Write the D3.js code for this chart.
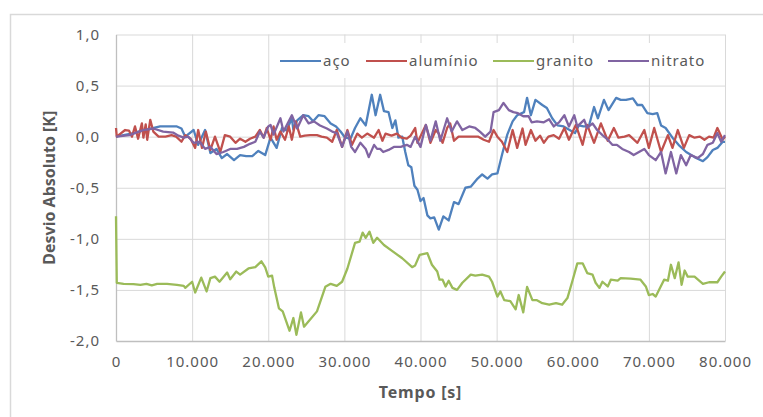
<!DOCTYPE html>
<html>
<head>
<meta charset="utf-8">
<script src="https://cdn.jsdelivr.net/npm/d3@7"></script>
<style>
  body { margin: 0; background: #fff; }
  text { font-family: "Noto Sans", "Open Sans", sans-serif; }
</style>
</head>
<body>
<svg></svg>
<script>
var svgWidth = 763;
var svgHeight = 417;

/* data: [tempo (mil s), desvio (K)] */
var acoData = [[0,0],[2,0.03],[4,0.07],[5.8,0.1],[7,0.1],[8,0.1],[8.6,0.08],[9.1,0],[10.2,0.065],[10.8,-0.08],[11.7,0.065],[12.4,-0.16],[13.2,-0.12],[13.9,-0.21],[14.6,-0.17],[15.5,-0.23],[16.3,-0.18],[17.1,-0.19],[17.9,-0.19],[18.7,-0.14],[19.6,-0.18],[20.3,-0.01],[21.1,-0.11],[21.8,0.085],[22.4,0.06],[23.1,0.18],[23.3,0.07],[23.8,0.16],[24.6,0.21],[25.3,0.2],[25.9,0.15],[26.6,0.21],[27.4,0.2],[28.2,0.13],[28.9,0.1],[29.5,0.05],[30.1,-0.01],[30.8,-0.02],[31.4,0.085],[32.1,0.18],[32.8,0.11],[33.6,0.41],[34.1,0.21],[34.7,0.41],[35.2,0.25],[35.8,0.24],[36.3,0.085],[36.7,0.16],[37.1,-0.01],[37.6,0],[38,-0.15],[38.4,-0.28],[38.8,-0.3],[39.2,-0.48],[39.6,-0.52],[40,-0.63],[40.4,-0.6],[40.9,-0.77],[41.3,-0.8],[41.8,-0.79],[42.4,-0.91],[43,-0.78],[43.7,-0.82],[44.4,-0.64],[45,-0.66],[45.9,-0.5],[46.6,-0.49],[47.5,-0.41],[48.1,-0.37],[48.8,-0.41],[49.4,-0.37],[50.1,-0.36],[50.7,-0.18],[51.4,0.02],[52.1,0.15],[52.7,0.21],[53.6,0.24],[54,0.38],[54.5,0.21],[55.1,0.36],[56,0.31],[56.6,0.28],[57.3,0.18],[58,0.11],[58.8,0.1],[59.7,0.06],[60.3,0.035],[60.8,0.11],[61.4,0.1],[62.1,0.1],[62.8,0.29],[63.3,0.18],[64.1,0.36],[64.7,0.26],[65.7,0.38],[66.3,0.36],[67,0.36],[67.9,0.375],[68.5,0.31],[69.1,0.31],[69.8,0.23],[70.5,0.22],[71.1,0.23],[71.6,0.11],[72.2,0.085],[73.1,-0.01],[73.9,-0.08],[74.9,-0.15],[76,-0.2],[77.1,-0.24],[77.7,-0.2],[78.4,-0.13],[79,-0.11],[79.7,-0.05],[80,-0.05]];

var aluminioData = [[0,0.085],[0.1,0],[1.2,0.065],[1.7,0.06],[2.1,0],[2.5,0.1],[2.9,-0.02],[3.4,0.13],[3.6,-0.01],[3.9,0.12],[4.1,-0.03],[4.5,0.165],[4.9,0.05],[5.6,0],[6.5,0],[7.3,0.015],[7.9,0],[8.6,-0.05],[9.1,0.015],[9.8,-0.02],[10.4,-0.11],[10.8,0.065],[11.3,-0.11],[11.8,0.05],[12.4,-0.13],[13,0],[13.7,-0.15],[14.3,0.015],[15,0],[15.7,-0.06],[16.3,-0.02],[17,-0.05],[17.6,-0.02],[18.3,0],[18.9,0.065],[19.4,-0.01],[19.8,0.085],[20.3,-0.03],[20.7,0.1],[21.1,-0.03],[21.6,0.05],[22.2,-0.03],[22.7,0.1],[23.1,-0.03],[23.6,0.15],[24.2,0],[24.8,0.01],[25.5,0.015],[26.4,0.015],[27,0],[27.7,-0.01],[28.4,-0.05],[29,0.065],[29.7,-0.1],[30.4,0.065],[31,-0.08],[31.7,0.03],[32.3,-0.01],[33,0.03],[33.9,-0.01],[34.5,0.065],[35,-0.04],[35.4,0.03],[36.2,0.01],[36.9,0.03],[37.5,-0.01],[38.2,-0.02],[38.7,0.01],[39.3,0.085],[39.6,-0.06],[40.1,0.02],[40.7,0.115],[41.3,-0.06],[42,0.065],[42.4,0.03],[42.9,-0.06],[43.5,0.085],[43.9,0.13],[44.4,-0.04],[45,0],[46,0],[46.8,0],[47.6,0],[48.3,-0.03],[49,-0.05],[49.6,0.065],[50.1,0],[50.7,-0.05],[51.4,-0.15],[52.1,0.065],[52.7,-0.11],[53.4,0.08],[53.8,-0.08],[54.5,0.065],[55.1,-0.04],[55.7,0.01],[56.2,-0.06],[56.8,0],[57.5,0.015],[58.2,-0.02],[58.9,0.085],[59.5,-0.03],[60.4,0.115],[61.3,-0.08],[61.9,0.115],[62.8,-0.06],[63.7,0.13],[64.6,-0.04],[65.4,0.085],[66,-0.01],[66.8,0],[67.4,0.015],[67.9,-0.02],[68.5,-0.06],[69.4,0.065],[70,-0.11],[70.7,0.085],[71.6,-0.15],[72.5,0.015],[73.1,-0.11],[73.8,0.065],[74.6,-0.11],[75.3,0.015],[76,-0.01],[76.7,0],[77.3,-0.03],[77.9,0],[78.5,-0.01],[79,0.085],[79.7,-0.03],[80,0]];

var granitoData = [[0,-0.78],[0.1,-1.43],[1,-1.44],[2.3,-1.443],[3.2,-1.45],[4,-1.44],[4.7,-1.455],[5.4,-1.44],[6.7,-1.44],[8,-1.45],[8.9,-1.46],[9.1,-1.48],[10,-1.42],[10.4,-1.525],[11.2,-1.38],[11.9,-1.515],[12.4,-1.385],[13,-1.37],[13.6,-1.42],[14.6,-1.33],[15,-1.395],[15.8,-1.32],[16.3,-1.35],[17.4,-1.29],[18.3,-1.277],[19.1,-1.22],[19.6,-1.28],[20,-1.37],[20.5,-1.36],[20.8,-1.48],[21.4,-1.68],[21.9,-1.71],[22.8,-1.9],[23.3,-1.775],[23.7,-1.94],[24.3,-1.72],[24.7,-1.86],[25.5,-1.79],[26.4,-1.71],[27.5,-1.47],[28.2,-1.44],[29,-1.46],[29.7,-1.42],[30.4,-1.29],[31.4,-1.04],[32,-1.027],[32.4,-0.94],[32.8,-0.99],[33.3,-0.93],[33.8,-1.04],[34.3,-0.99],[35.2,-1.06],[36.3,-1.12],[37.6,-1.19],[38.9,-1.277],[39.3,-1.26],[39.9,-1.156],[40.9,-1.14],[41.5,-1.254],[42.2,-1.32],[42.5,-1.4],[42.9,-1.4],[43.3,-1.466],[43.7,-1.41],[44.2,-1.48],[44.8,-1.5],[45.5,-1.43],[46.6,-1.35],[47.2,-1.36],[48.1,-1.35],[49,-1.37],[49.4,-1.42],[50.1,-1.565],[50.5,-1.515],[51,-1.6],[51.8,-1.61],[52.5,-1.69],[52.9,-1.55],[53.5,-1.72],[54,-1.47],[54.7,-1.6],[55.3,-1.6],[56,-1.63],[56.9,-1.645],[57.8,-1.63],[58.6,-1.645],[59.3,-1.58],[60,-1.4],[60.6,-1.24],[61.3,-1.24],[61.9,-1.335],[62.6,-1.35],[63,-1.43],[63.5,-1.48],[63.9,-1.42],[64.6,-1.466],[65,-1.4],[65.9,-1.41],[66.3,-1.385],[67.6,-1.39],[68.9,-1.4],[69.6,-1.466],[70,-1.55],[70.5,-1.54],[70.9,-1.565],[72,-1.4],[72.5,-1.41],[72.9,-1.254],[73.4,-1.385],[73.9,-1.23],[74.3,-1.45],[74.7,-1.31],[75.1,-1.37],[76,-1.37],[77.1,-1.44],[77.9,-1.425],[79,-1.425],[79.5,-1.37],[80,-1.32]];

var nitratoData = [[0,0],[1.8,0.015],[3.6,0.065],[4.9,0.08],[6.2,0.05],[7.5,0.04],[8.2,0.01],[8.9,-0.01],[9.5,0],[10.2,-0.06],[11,-0.05],[11.7,-0.12],[12.4,-0.1],[13.2,-0.17],[14.1,-0.15],[15,-0.12],[15.9,-0.12],[16.8,-0.1],[17.6,-0.07],[18.3,-0.05],[18.9,0.05],[19.4,-0.01],[20,0.1],[20.3,0.115],[20.7,0.02],[21.6,0.18],[22,0.05],[23.1,0.21],[23.8,0.08],[24.6,0.21],[25.3,0.13],[26,0.15],[26.8,0.11],[27.7,0.08],[28.4,0.05],[29,0.035],[29.7,-0.1],[30.4,0.05],[30.9,-0.1],[31.4,-0.15],[32.1,-0.06],[32.8,-0.12],[33.2,-0.2],[33.9,-0.08],[34.3,-0.12],[34.7,-0.12],[35.1,-0.15],[35.8,-0.13],[36.5,-0.1],[37.4,-0.1],[38.2,-0.08],[38.7,-0.1],[39.3,0],[40,-0.1],[40.7,0.115],[41.3,-0.04],[42,0.15],[42.6,-0.04],[43.5,0.18],[44.1,0.05],[44.8,0.15],[45.5,0.065],[46.4,0.1],[47.2,0.085],[47.8,0.05],[48.5,0],[49.2,0.05],[49.6,0.24],[50.3,0.26],[50.9,0.33],[51.6,0.26],[52.2,0.24],[52.8,0.23],[53.5,0.2],[54.2,0.2],[54.6,0.14],[55.3,0.15],[56.2,0.14],[56.9,0.17],[57.5,0.1],[58.2,0.14],[58.9,0.21],[59.5,0.1],[60.2,0.21],[60.6,0.1],[61.5,0.165],[61.9,0.085],[62.6,0.13],[63.2,0.065],[63.9,0.015],[64.6,-0.03],[65.2,-0.08],[65.8,-0.08],[66.5,-0.12],[67.4,-0.15],[68,-0.18],[68.7,-0.15],[69.4,-0.12],[70,-0.18],[70.9,-0.23],[71.6,-0.15],[72.2,-0.36],[72.9,-0.15],[73.6,-0.36],[74.2,-0.18],[74.9,-0.28],[75.5,-0.18],[76.4,-0.21],[77.1,-0.17],[77.7,-0.08],[78.4,-0.06],[79,0.035],[79.5,-0.05],[80,0.015]];

var seriesNames = ['aço', 'alumínio', 'granito', 'nitrato'];
var seriesColors = ['#4F81BD', '#C0504D', '#9BBB59', '#8064A2'];
var xTicks = [0, 10000, 20000, 30000, 40000, 50000, 60000, 70000, 80000];
var yTicks = [1, 0.5, 0, -0.5, -1, -1.5, -2];

var series = [acoData, aluminioData, granitoData, nitratoData];

var margin = {left: 116, right: 38, top: 34.5, bottom: 76};
var plotW = svgWidth - margin.left - margin.right;
var plotH = svgHeight - margin.top - margin.bottom;

var ptBR = d3.formatLocale({decimal: ',', thousands: '.', grouping: [3], currency: ['', ''], minus: '-'});
var fmtX = ptBR.format(',.0f');
var fmtY = ptBR.format('.1f');

var svg = d3.select('svg')
                .attr('width', svgWidth)
                .attr('height', svgHeight)
                .style('display', 'block');

/* chart border */
svg.append('rect')
    .attr('x', 10.5).attr('y', 14.5)
    .attr('width', 800).attr('height', 500)
    .style('fill', 'none')
    .style('stroke', '#d9d9d9')
    .style('stroke-width', 1.5);

var x = d3.scaleLinear().domain([0, 80000]).range([margin.left, margin.left + plotW]);
var y = d3.scaleLinear().domain([-2, 1]).range([margin.top + plotH, margin.top]);

/* grid lines */
svg.append('g')
    .attr('transform', `translate(0,${margin.top + plotH})`)
    .call(d3.axisBottom(x).tickValues(xTicks.slice(1)).tickSize(-plotH).tickFormat(''))
    .call(g => g.select('.domain').remove())
    .call(g => g.selectAll('line').style('stroke', '#d9d9d9'));

svg.append('g')
    .attr('transform', `translate(${margin.left},0)`)
    .call(d3.axisLeft(y).tickValues(yTicks.slice(0, -1)).tickSize(-plotW).tickFormat(''))
    .call(g => g.select('.domain').remove())
    .call(g => g.selectAll('line').style('stroke', '#d9d9d9'));

/* axis lines and tick labels */
var xAxis = svg.append('g')
    .attr('transform', `translate(0,${margin.top + plotH})`)
    .call(d3.axisBottom(x).tickValues(xTicks).tickSize(0).tickPadding(15).tickFormat(fmtX));

var yAxis = svg.append('g')
    .attr('transform', `translate(${margin.left},0)`)
    .call(d3.axisLeft(y).tickValues(yTicks).tickSize(0).tickPadding(16).tickFormat(fmtY));

[xAxis, yAxis].forEach(g => {
    g.select('.domain').style('stroke', '#bfbfbf').style('stroke-width', 1.3);
    g.selectAll('text')
        .style('font-size', '15px')
        .style('letter-spacing', '1px')
        .style('fill', '#595959');
});

/* legend background */
svg.append('rect')
    .attr('x', 272).attr('y', 43)
    .attr('width', 448).attr('height', 35)
    .style('fill', '#fff');

/* series lines */
var line = d3.line()
    .x(d => x(d[0] * 1000))
    .y(d => y(d[1]));

series.forEach((data, i) => {
    svg.append('path')
        .datum(data)
        .attr('d', line)
        .style('fill', 'none')
        .style('stroke', seriesColors[i])
        .style('stroke-width', 2.3)
        .style('stroke-linejoin', 'round');
});

/* legend */
var legendX = [280, 366, 493, 608];
var legend = svg.selectAll('.legend')
    .data(seriesNames)
    .enter()
    .append('g')
    .attr('class', 'legend')
    .attr('transform', (d, i) => `translate(${legendX[i]},61)`);

legend.append('line')
    .attr('x1', 0).attr('x2', 41)
    .style('stroke', (d, i) => seriesColors[i])
    .style('stroke-width', 2.2);

legend.append('text')
    .text(d => d)
    .attr('x', 43)
    .attr('dy', '0.32em')
    .style('font-size', '15px')
    .style('letter-spacing', '1px')
    .style('fill', '#595959');

/* axis titles */
svg.append('text')
    .text('Tempo [s]')
    .attr('x', x(40000))
    .attr('y', 398)
    .attr('text-anchor', 'middle')
    .style('font-size', '16px')
    .style('font-weight', 'bold')
    .style('letter-spacing', '0.8px')
    .style('fill', '#595959');

svg.append('text')
    .text('Desvio Absoluto [K]')
    .attr('transform', `translate(55,${y(-0.5)}) rotate(-90)`)
    .attr('text-anchor', 'middle')
    .style('font-size', '16px')
    .style('font-weight', 'bold')
    .style('fill', '#595959');
</script>
</body>
</html>
